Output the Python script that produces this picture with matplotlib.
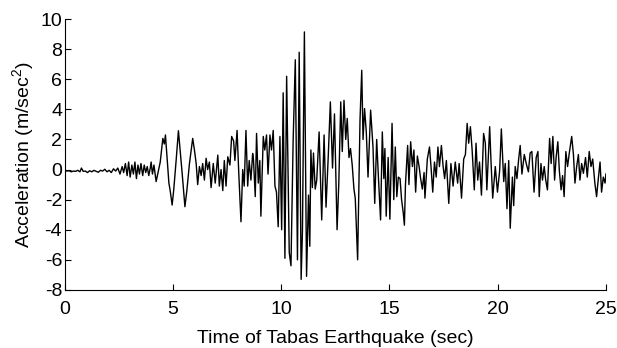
import matplotlib
matplotlib.use("Agg")
import matplotlib.pyplot as plt

plt.rcParams['font.family'] = ['Liberation Sans', 'DejaVu Sans']
plt.rcParams['mathtext.fontset'] = 'custom'
plt.rcParams['mathtext.rm'] = 'Liberation Sans'
plt.rcParams['axes.unicode_minus'] = False

time_s = [0.0, 0.1, 0.2, 0.3, 0.4, 0.5, 0.6, 0.7, 0.77, 0.85, 0.95, 1.05, 1.15, 1.25, 1.35, 1.45,
          1.55, 1.65, 1.75, 1.85, 1.95, 2.05, 2.15, 2.25, 2.35, 2.45, 2.55, 2.65, 2.72, 2.8, 2.88,
          2.95, 3.02, 3.1, 3.17, 3.24, 3.31, 3.38, 3.45, 3.52, 3.6, 3.67, 3.74, 3.81, 3.88, 3.95,
          3.99, 4.05, 4.12, 4.22, 4.41, 4.53, 4.6, 4.65, 4.7, 4.81, 4.87, 4.96, 5.03, 5.15, 5.25,
          5.33, 5.42, 5.5, 5.55, 5.64, 5.76, 5.84, 5.91, 5.99, 6.07, 6.14, 6.22, 6.3, 6.37, 6.45,
          6.53, 6.6, 6.68, 6.76, 6.86, 6.95, 7.07, 7.14, 7.22, 7.3, 7.37, 7.45, 7.53, 7.63, 7.71,
          7.8, 7.86, 7.96, 8.04, 8.14, 8.22, 8.29, 8.37, 8.45, 8.52, 8.6, 8.68, 8.72, 8.8, 8.86,
          8.94, 9.01, 9.06, 9.17, 9.24, 9.32, 9.39, 9.48, 9.55, 9.63, 9.71, 9.78, 9.86, 9.94, 10.02,
          10.09, 10.17, 10.25, 10.31, 10.37, 10.45, 10.55, 10.65, 10.75, 10.83, 10.92, 10.98, 11.07,
          11.17, 11.26, 11.32, 11.37, 11.44, 11.49, 11.57, 11.64, 11.75, 11.87, 11.98, 12.07, 12.17,
          12.27, 12.37, 12.46, 12.58, 12.66, 12.75, 12.82, 12.9, 12.98, 13.05, 13.13, 13.2, 13.28,
          13.36, 13.42, 13.53, 13.64, 13.72, 13.78, 13.85, 13.93, 14.01, 14.13, 14.24, 14.32, 14.41,
          14.49, 14.59, 14.67, 14.74, 14.79, 14.85, 14.94, 15.02, 15.12, 15.2, 15.27, 15.34, 15.41,
          15.49, 15.56, 15.64, 15.69, 15.74, 15.84, 15.9, 15.98, 16.06, 16.13, 16.21, 16.29, 16.37,
          16.44, 16.52, 16.6, 16.64, 16.75, 16.85, 16.93, 17.0, 17.08, 17.16, 17.24, 17.31, 17.4,
          17.48, 17.55, 17.63, 17.74, 17.84, 17.94, 18.04, 18.15, 18.22, 18.33, 18.43, 18.51, 18.59,
          18.66, 18.74, 18.82, 18.92, 19.0, 19.08, 19.16, 19.25, 19.35, 19.43, 19.5, 19.63, 19.69,
          19.77, 19.89, 19.99, 20.09, 20.17, 20.28, 20.35, 20.43, 20.51, 20.58, 20.68, 20.74, 20.81,
          20.89, 20.97, 21.04, 21.12, 21.23, 21.32, 21.42, 21.5, 21.58, 21.68, 21.78, 21.86, 21.92,
          22.0, 22.07, 22.15, 22.22, 22.3, 22.4, 22.47, 22.55, 22.63, 22.7, 22.78, 22.85, 22.93,
          23.0, 23.07, 23.15, 23.23, 23.3, 23.42, 23.5, 23.57, 23.65, 23.73, 23.8, 23.88, 23.96,
          24.06, 24.14, 24.23, 24.31, 24.39, 24.49, 24.57, 24.65, 24.73, 24.8, 24.88, 24.96, 25.0]

accel = [-0.05, -0.1, -0.08, -0.15, -0.1, -0.12, -0.05, -0.15, 0.1, -0.12, -0.1, -0.2, -0.08, -0.15,
         -0.05, -0.12, -0.18, -0.05, -0.1, 0.02, -0.15, -0.05, -0.2, 0.05, -0.1, 0.1, -0.3, 0.2, -0.2,
         0.4, -0.4, 0.5, -0.5, 0.3, -0.3, 0.5, -0.6, 0.3, -0.3, 0.4, -0.4, 0.3, -0.2, 0.2, -0.4, 0.1,
         0.5, -0.3, 0.3, -0.8, 0.5, 2.07, 1.7, 2.3, 1.3, -0.9, -1.4, -2.36, -1.4, 0.7, 2.58,
         1.3, -0.2, -1.6, -2.47, -1.4, 0.4, 1.3, 2.07, 1.3, 0.4, -1.0, 0.2, -0.4, 0.4, -0.7,
         0.75, 0.0, 0.5, -1.2, 0.4, -0.9, 0.96, -1.1, 0.0, -1.4, 0.6, -1.1, 0.85, 0.3, 2.2,
         1.9, 0.6, 2.6, -0.3, -3.47, 0.0, -1.1, 2.6, -1.1, 0.6, -0.7, 1.07, 0.6, -1.8, 2.4,
         -0.9, 0.6, -3.1, 2.2, 1.3, 2.3, -0.3, 2.3, 1.3, 2.6, -1.1, -1.5, -3.8, 2.2, -4.0,
         5.1, -5.9, 6.2, 0.5, -5.5, -6.4, 1.9, 7.3, -6.0, 7.8, -7.3, -4.1, 9.15,
         -7.1, -1.7, -5.1, 1.3, -1.2, 1.1, -1.3, -0.7, 2.5, -3.35, 2.3, -2.5, 0.8,
         4.5, 0.1, 3.7, -4.0, -0.9, 4.5, 1.2, 4.6, 2.0, 3.4, 0.8, 1.4, 0.3,
         -1.3, -1.9, -6.0, 3.3, 6.6, 2.0, 4.05, 2.5, -0.5, 3.95, 1.5, -2.25, 2.0,
         -0.5, -3.35, 2.5, -0.6, 1.4, -3.1, 0.8, -3.3, 3.07, -2.0, 1.5, -1.8, -0.5,
         -0.6, -2.0, -2.9, -3.7, -1.0, 1.6, -1.0, 1.85, 0.2, 1.3, -1.5, 0.9, 0.2,
         -0.6, -1.3, -0.2, -1.9, 0.7, 1.5, 0.0, -1.5, 0.5, -0.5, 1.5, 0.2, 1.6,
         0.2, -0.6, 0.6, -2.25, 0.4, -1.1, 0.5, -0.9, 0.4, -1.9, 0.7, 1.0, 3.07,
         1.75, 2.85, 1.3, -1.35, 1.75, -0.7, 0.5, -1.7, 2.4, 1.75, -1.35, 2.85, 0.6,
         -1.9, 0.2, -1.5, -0.1, 2.7, -0.8, 0.4, -2.6, 0.6, -3.9, -0.5, -2.4, 0.2,
         -0.6, 0.7, 1.6, -0.3, 1.0, 0.4, -0.15, 1.1, 1.2, -1.5, 0.8, 1.2, -1.8,
         0.4, -0.7, 0.2, -0.7, -1.35, 2.07, 0.4, 2.2, -0.7, 0.8, 1.85, -0.1, -1.35,
         -0.4, -1.8, 1.2, 0.2, 1.0, 2.2, 1.0, -0.9, 0.2, 1.0, -0.7, 0.4, -0.25,
         0.8, -0.5, 1.2, 0.2, 0.7, -0.9, -1.8, -0.6, 0.5, -1.5, -0.5, -0.9, -0.3]

x_ticks = [0, 5, 10, 15, 20, 25]
y_ticks = [-8, -6, -4, -2, 0, 2, 4, 6, 8, 10]

fig = plt.figure(figsize=(6.17, 3.48), dpi=100)
ax = fig.add_axes([0.105, 0.167, 0.877, 0.778])
ax.plot(time_s, accel, color='black', linewidth=1.0)

ax.set_xlim(0, 25)
ax.set_ylim(-8, 10)
ax.set_xticks(x_ticks)
ax.set_yticks(y_ticks)
ax.spines['top'].set_visible(False)
ax.spines['right'].set_visible(False)
for s in ('left', 'bottom'):
    ax.spines[s].set_linewidth(0.8)
ax.tick_params(direction='in', length=4, width=0.8, labelsize=14)
ax.tick_params(axis='x', pad=8)
ax.tick_params(axis='y', pad=2)
ax.set_xlabel('Time of Tabas Earthquake (sec)', fontsize=14, labelpad=9)
ax.set_ylabel(r'Acceleration (m/sec$^{2}$)', fontsize=14, labelpad=2)

fig.savefig('out.png', dpi=100)
